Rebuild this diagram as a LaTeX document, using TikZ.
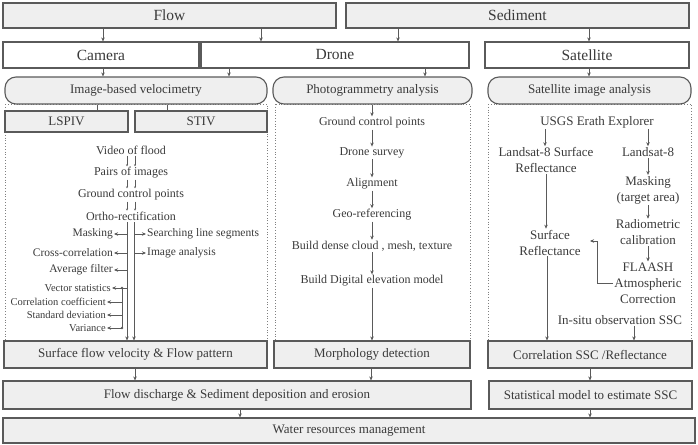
\documentclass[tikz,border=0pt]{standalone}
\usepackage{fontspec}
\setmainfont{Liberation Serif}
\usetikzlibrary{arrows.meta,calc}
\definecolor{bord}{HTML}{5A5A5A}
\definecolor{boxfill}{HTML}{EFEFEF}
\definecolor{txt}{HTML}{3A3A3A}
\newcommand\fsz[1]{\fontsize{#1}{#1}\selectfont}
\tikzset{
  bx/.style 2 args={draw=bord, line width=1.1pt, fill=boxfill, inner sep=0pt, text=txt,
    minimum width=#1pt, minimum height=#2pt, font=\fsz{13}},
  wbx/.style 2 args={bx={#1}{#2}, fill=white, font=\fsz{15.5}},
  topbx/.style 2 args={bx={#1}{#2}, font=\fsz{15.5}},
  rbx/.style 2 args={bx={#1}{#2}, rounded corners=11pt},
  lbl/.style={text=txt, inner sep=1pt, align=center, font=\fsz{12}},
  rlbl/.style={text=txt, inner sep=1pt, align=center, font=\fontsize{13}{16}\selectfont},
  slbl/.style={text=txt, inner sep=1pt, font=\fsz{11.5}},
  tlbl/.style={text=txt, inner sep=1pt, font=\fsz{10.5}},
  arr/.style={draw=bord, line width=0.9pt, -{Stealth[length=4pt,width=3.5pt]}},
  ln/.style={draw=bord, line width=0.9pt},
  frame/.style={draw=gray, dotted, line width=0.8pt}
}
\begin{document}
\begin{tikzpicture}[x=1pt,y=-1pt]
\useasboundingbox (0,0) rectangle (698,444);
% dotted frames
\draw[frame] (5,104) rectangle (267,341);
\draw[frame] (275,104) rectangle (470,341);
\draw[frame] (488,104) rectangle (691,341);
% row 1
\node[topbx={333}{25}] (flow) at (169.5,15.5) {Flow};
\node[topbx={343}{25}] (sed) at (517.5,15.5) {Sediment};
% row 2
\node[wbx={196}{26}] (camera) at (101,55) {Camera};
\node[wbx={268}{26}] (drone) at (335,55) {Drone};
\node[wbx={204}{26}] (sat) at (587,55) {Satellite};
% row 3
\node[rbx={262}{27}] (ibv) at (136,90.5) {Image-based velocimetry};
\node[rbx={199}{27}] (photo) at (372.5,90.5) {Photogrammetry analysis};
\node[rbx={203}{27}] (sia) at (589.5,90.5) {Satellite image analysis};
% LSPIV / STIV
\node[bx={123}{21}] (lspiv) at (66.5,121.5) {LSPIV};
\node[bx={132}{21}] (stiv) at (201,121.5) {STIV};
% bottom boxes
\node[bx={263}{27}] (sfv) at (135.5,354.5) {Surface flow velocity \& Flow pattern};
\node[bx={196}{27}] (morph) at (372,354.5) {Morphology detection};
\node[bx={204}{27}] (corr) at (590,354.5) {Correlation SSC /Reflectance};
\node[bx={468}{28}] (fd) at (237,395) {Flow discharge \& Sediment deposition and erosion};
\node[bx={203}{28}] (stat) at (590.5,395) {Statistical model to estimate SSC};
\node[bx={692}{25}] (water) at (349,430.5) {Water resources management};

% top arrows
\draw[arr] (103,0 |- flow.south) -- (103,0 |- camera.north);
\draw[arr] (261,0 |- flow.south) -- (261,0 |- drone.north);
\draw[arr] (398,0 |- sed.south) -- (398,0 |- drone.north);
\draw[arr] (589,0 |- sed.south) -- (589,0 |- sat.north);
\draw[arr] (103,0 |- camera.south) -- (103,0 |- ibv.north);
\draw[arr] (229,0 |- drone.south) -- (229,0 |- ibv.north);
\draw[arr] (425,0 |- drone.south) -- (425,0 |- photo.north);
\draw[arr] (589,0 |- sat.south) -- (589,0 |- sia.north);
\draw[ln] (97,0 |- ibv.south) -- (97,0 |- lspiv.north);
\draw[ln] (167,0 |- ibv.south) -- (167,0 |- stiv.north);

% left column
\node[lbl] (video) at (131,150) {Video of flood};
\node[lbl] (pairs) at (131,173) {Pairs of images};
\node[lbl] (gcpl) at (131,195) {Ground control points};
\node[lbl] (ortho) at (131,216) {Ortho-rectification};
\foreach \a/\b in {video/pairs, pairs/gcpl, gcpl/ortho}{
  \draw[draw=bord, line width=0.6pt, -{Stealth[length=2pt,width=2pt]}] (127,0 |- \a.south) -- (127,0 |- \b.north);
  \draw[draw=bord, line width=0.6pt, -{Stealth[length=2pt,width=2pt]}] (135,0 |- \a.south) -- (135,0 |- \b.north);
}
\coordinate (la) at (127,222);
\coordinate (lb) at (134,222);
\draw[arr] (la) -- (la |- sfv.north);
\draw[arr] (lb) -- (lb |- sfv.north);
\node[slbl, anchor=east] (masking) at (114,234) {Masking};
\node[slbl, anchor=west] (search) at (146,234) {Searching line segments};
\node[slbl, anchor=east] (cross) at (114,253) {Cross-correlation};
\node[slbl, anchor=west] (imgan) at (146,253) {Image analysis};
\node[slbl, anchor=east] (avg) at (114,270) {Average filter};
\node[tlbl, anchor=east] (vecst) at (112,288) {Vector statistics};
\node[tlbl, anchor=east] (corrc) at (107,302) {Correlation coefficient};
\node[tlbl, anchor=east] (stdd) at (107,315) {Standard deviation};
\node[tlbl, anchor=east] (vari) at (107,328) {Variance};
\draw[arr] (la |- masking.east) -- (masking.east);
\draw[arr] (la |- cross.east) -- (cross.east);
\draw[arr] (la |- avg.east) -- (avg.east);
\draw[arr] (la |- vecst.east) -- (vecst.east);
\draw[arr] (lb |- search.west) -- (search.west);
\draw[arr] (lb |- imgan.west) -- (imgan.west);
\coordinate (lc) at (122,288);
\draw[ln] (lc) -- (lc |- vari.east);
\fill[bord] (lc) circle (1.3pt);
\foreach \n in {corrc, stdd, vari}{
  \draw[arr] (lc |- \n.east) -- (\n.east);
}
\fill[bord] (lc |- vari.east) circle (1.3pt);

% middle column
\node[lbl] (gcpm) at (372,123) {Ground control points};
\node[lbl] (survey) at (372,153) {Drone survey};
\node[lbl] (align) at (372,184) {Alignment};
\node[lbl] (georef) at (372,215) {Geo-referencing};
\node[lbl] (dense) at (372,246) {Build dense cloud , mesh, texture};
\node[lbl] (dem) at (372,281) {Build Digital elevation model};
\draw[arr] (372,0 |- photo.south) -- (gcpm.north);
\draw[arr] (gcpm) -- (survey);
\draw[arr] (survey) -- (align);
\draw[arr] (align) -- (georef);
\draw[arr] (georef) -- (dense);
\draw[arr] (dense) -- (dem);
\draw[arr] (dem.south) -- (dem.south |- morph.north);

% right column
\node[rlbl] (usgs) at (597,122) {USGS Erath Explorer};
\node[rlbl] (lsr) at (546,160) {Landsat-8 Surface\\Reflectance};
\node[rlbl] (l8) at (648,152) {Landsat-8};
\node[rlbl] (mask) at (648,190) {Masking\\(target area)};
\node[rlbl] (radio) at (648,232.5) {Radiometric\\calibration};
\node[rlbl] (flaash) at (648,283) {FLAASH\\Atmospheric\\Correction};
\node[rlbl] (sr) at (550,242.5) {Surface\\Reflectance};
\node[rlbl] (insitu) at (620,320) {In-situ observation SSC};
\draw[arr] (545,0 |- usgs.south) -- (545,0 |- lsr.north);
\draw[arr] (648,0 |- usgs.south) -- (l8.north);
\draw[arr] (l8) -- (mask);
\draw[arr] (mask) -- (radio);
\draw[arr] (radio) -- (flaash);
\draw[arr] (546,0 |- lsr.south) -- (546,0 |- sr.north);
\coordinate (brk) at (590,241);
\draw[arr] (flaash.west) -| (597,0 |- brk) -- (brk);
\draw[arr] (547,0 |- sr.south) -- (547,0 |- corr.north);
\draw[arr] (634,0 |- insitu.south) -- (634,0 |- corr.north);

% bottom arrows
\draw[arr] (135,0 |- sfv.south) -- (135,0 |- fd.north);
\draw[arr] (371,0 |- morph.south) -- (371,0 |- fd.north);
\draw[arr] (590,0 |- corr.south) -- (590,0 |- stat.north);
\draw[arr] (240,0 |- fd.south) -- (240,0 |- water.north);
\draw[arr] (590,0 |- stat.south) -- (590,0 |- water.north);
\end{tikzpicture}
\end{document}
